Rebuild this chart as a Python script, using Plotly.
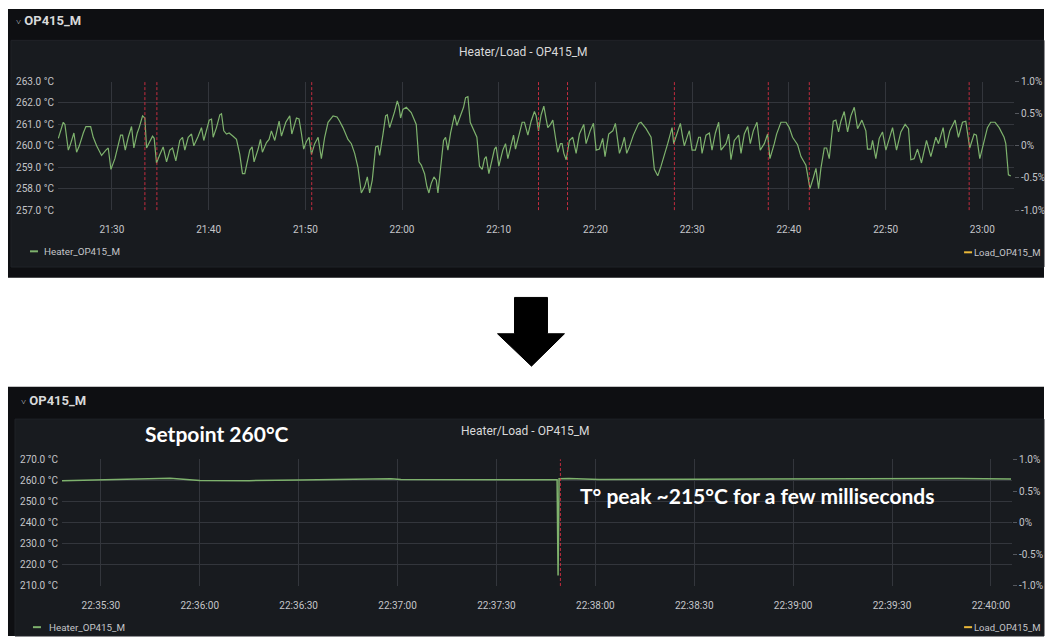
import pandas as pd
import plotly.graph_objects as go

W, H = 1045, 642

# ---------------------------------------------------------------------------
# Overview window: heater temperature (minutes after 21:00, °C)
# ---------------------------------------------------------------------------
overview_minutes = [
    24.46, 24.73, 24.97, 25.14, 25.49, 25.66, 25.94, 26.07, 26.35, 26.63,
    27.04, 27.31, 27.80, 28.07, 28.42, 28.93, 29.38, 29.62, 29.90, 30.31,
    30.90, 31.10, 31.38, 31.69, 32.03, 32.27, 32.62, 32.82, 33.17, 33.41,
    33.58, 33.86, 34.20, 34.37, 34.61, 34.96, 35.30, 35.65, 35.99, 36.27,
    36.61, 37.02, 37.30, 37.54, 37.89, 38.23, 38.47, 38.92, 39.26, 39.50,
    40.06, 40.30, 40.47, 40.81, 41.16, 41.33, 41.57, 41.85, 42.12, 42.53,
    42.88, 43.22, 43.50, 43.74, 43.98, 44.26, 44.50, 44.70, 45.12, 45.36,
    45.56, 45.98, 46.25, 46.49, 46.84, 47.29, 47.53, 47.98, 48.39, 48.60,
    49.08, 49.35, 49.59, 49.83, 50.11, 50.39, 50.63, 50.97, 51.32, 51.66,
    52.00, 52.35, 52.87, 53.28, 53.55,
    53.89, 54.41, 54.76, 55.10, 55.44, 55.79, 56.13, 56.41, 56.65, 56.92,
    57.27, 57.51, 57.68, 58.03, 58.30, 58.47, 58.72, 59.23, 59.51, 59.68,
    59.85, 60.09, 60.44, 60.95, 61.47, 61.75, 61.99, 62.33, 62.57, 62.78,
    63.02, 63.30, 63.54, 63.71, 63.98, 64.29, 64.50, 64.74, 65.02, 65.43,
    65.67, 66.02, 66.36, 66.57, 66.81, 67.05, 67.32, 67.74, 68.01, 68.29,
    68.53, 68.70, 68.98, 69.22, 69.56, 69.73, 70.01, 70.42, 70.70, 70.94,
    71.28, 71.53, 71.73, 72.15, 72.42, 72.66, 73.01, 73.35, 73.69, 73.87,
    74.11, 74.38, 74.66, 74.90, 75.07, 75.35, 75.59, 75.86, 76.10, 76.38,
    76.55, 76.73, 76.97, 77.31, 77.65, 78.00, 78.34, 78.79, 79.03, 79.45,
    79.79, 80.07, 80.41, 80.75, 80.99, 81.37, 81.79, 82.06, 82.48, 82.75,
    82.99, 83.23, 83.51, 83.92, 84.47, 84.71, 85.23, 85.75, 86.09, 86.44,
    86.78, 87.47, 87.92, 88.09, 88.50, 88.78, 89.02, 89.19, 89.54,
    89.71, 89.99, 90.33, 90.67, 90.85, 91.02, 91.43, 91.78, 92.05, 92.40,
    92.74, 92.98, 93.50, 93.77, 94.01, 94.36, 94.81, 95.05, 95.39, 95.74,
    96.01, 96.32, 96.70, 97.04, 97.46, 97.80, 98.04, 98.49, 98.73, 99.18,
    99.70, 100.04, 100.38, 100.90, 101.25, 101.76, 102.18, 102.52, 102.80, 103.07,
    103.31, 103.66, 103.90, 104.17, 104.59, 104.86, 105.14, 105.38, 105.72, 106.07,
    106.41, 106.76, 107.10, 107.55, 107.96, 108.13, 108.48, 108.65, 108.99, 109.34,
    109.68, 110.03, 110.37, 110.72, 111.13, 111.58, 112.02, 112.37, 112.61, 112.95,
    113.30, 113.71, 114.23, 114.68, 115.19, 115.47, 115.95, 116.23, 116.64, 117.19,
    117.53, 117.95, 118.29, 118.70, 119.15, 119.39, 119.74, 120.01, 120.53, 120.87,
    121.32, 121.74, 122.25, 122.43, 122.70, 122.94,
]
overview_temp = [
    260.35, 260.8, 261.1, 261.0, 259.8, 260.0, 260.5, 260.6, 259.7, 260.0,
    260.6, 260.9, 260.9, 260.4, 260.0, 259.55, 259.8, 259.9, 258.9, 259.4,
    260.5, 260.5, 259.8, 260.4, 260.9, 259.9, 260.6, 260.85, 261.4, 261.3,
    259.9, 260.15, 260.45, 260.35, 259.2, 259.6, 259.95, 259.25, 259.8, 259.9,
    259.3, 260.25, 260.4, 259.8, 260.4, 260.55, 260.0, 260.45, 260.85, 260.25,
    261.2, 261.25, 260.4, 260.85, 261.45, 261.5, 260.7, 260.55, 260.6, 260.45,
    260.3, 259.6, 258.7, 258.7, 259.15, 259.8, 259.95, 259.25, 259.85, 260.3,
    259.7, 260.15, 260.3, 260.7, 260.25, 261.15, 260.45, 261.1, 261.4, 260.55,
    261.3, 261.25, 260.6, 259.85, 260.2, 260.4, 259.6, 260.1, 260.4, 259.4,
    260.4, 261.1, 261.4, 261.35, 261.15,
    260.85, 260.3, 260.1, 259.65, 259.0, 257.8, 258.1, 258.55, 257.8, 258.4,
    259.95, 260.0, 259.55, 260.55, 261.4, 261.45, 260.85, 261.6, 262.1, 261.85,
    261.3, 261.7, 261.8, 261.55, 261.0, 259.25, 259.1, 258.7, 258.1, 257.8,
    258.25, 258.55, 258.4, 257.8, 258.9, 260.25, 260.4, 259.8, 260.6, 261.45,
    260.95, 261.4, 261.8, 262.25, 262.3, 261.1, 260.85, 260.4, 259.05, 258.9,
    259.4, 259.5, 258.7, 259.2, 259.85, 259.95, 259.05, 259.8, 260.1, 259.4,
    260.1, 260.5, 259.85, 260.55, 261.1, 261.1, 260.5, 261.15, 261.6, 261.4,
    260.7, 261.45, 261.85, 261.25, 260.85, 261.0, 261.2, 260.4, 259.7, 260.1,
    260.1, 259.65, 259.35, 260.25, 260.4, 259.65, 260.55, 261.0, 260.1, 260.7,
    261.05, 259.8, 259.85, 260.35, 259.5, 260.55, 260.7, 261.05, 259.65, 260.0,
    260.4, 259.65, 259.95, 260.5, 261.05, 261.1, 260.8, 260.4, 258.9, 258.6,
    259.05, 260.1, 260.85, 260.1, 260.7, 261.05, 260.4, 260.0, 260.5,
    260.7, 259.8, 259.8, 260.4, 260.4, 259.65, 260.5, 260.6, 259.8, 260.6,
    261.1, 259.8, 260.1, 260.55, 259.35, 260.25, 260.5, 259.65, 260.55, 260.9,
    260.1, 260.7, 261.1, 259.8, 260.1, 260.55, 259.4, 260.1, 260.55, 261.1,
    261.1, 260.85, 260.4, 260.05, 259.5, 259.1, 258.0, 258.5, 258.95, 258.0,
    258.95, 259.9, 259.9, 259.4, 261.15, 261.2, 260.65, 261.15, 261.6, 260.65,
    261.4, 261.8, 260.8, 261.2, 260.7, 259.85, 259.85, 260.25, 259.4, 260.35,
    260.65, 259.8, 260.35, 260.85, 259.8, 260.65, 261.0, 260.8, 259.35, 259.4,
    259.85, 259.2, 260.25, 259.5, 260.4, 260.1, 260.85, 259.9, 260.7, 261.2,
    260.4, 261.1, 261.15, 259.9, 260.55, 260.5, 259.4, 259.85, 260.85, 261.1,
    261.1, 260.85, 260.4, 260.1, 258.65, 258.6,
]
# Annotation events (minutes after 21:00)
overview_events = [33.41, 34.65, 50.66, 74.11, 77.11, 88.16, 97.87, 102.11, 118.64]
overview_range_min = [24.42, 123.28]

# ---------------------------------------------------------------------------
# Detail window: heater temperature (seconds after 22:35:00, °C)
# ---------------------------------------------------------------------------
setpoint_c = 260
peak_c = 215
detail_seconds = [
    18.2, 29.7, 41.8, 51.0, 60.0, 75.0, 90.3, 102.4, 111.5,
    118.0, 121.0, 140.0, 160.0, 168.4, 168.7, 169.0, 172.0, 181.2, 211.5,
    241.8, 260.0, 272.1, 290.0, 306.1,
]
detail_temp = [
    259.9, 260.4, 260.8, 261.0, 260.0, 259.9, 260.2, 260.6, 260.9,
    260.8, 260.4, 260.3, 260.3, 260.3, peak_c, 260.8, 260.9, 260.5, 260.6,
    260.8, 261.0, 261.0, 260.9, 260.7,
]
detail_events = [169.4]
detail_range_s = [18.2, 306.4]

# Load axis (percent) ticks
load_ticks = [-1.0, -0.5, 0.0, 0.5, 1.0]
load_ticktext = ["-1.0%", "-0.5%", "0%", "0.5%", "1.0%"]

# ---------------------------------------------------------------------------
GREEN = "#7eb26d"
YELLOW = "#eab839"
RED = "#e02f44"
RED_LINE = "rgba(224,47,68,0.85)"
OUTER = "#0e0f12"
INNER = "#181b1f"
GRID = "#33363c"
TXT = "#d8d9da"
TICK = "#c4c5c9"
FONT = "Roboto"
CALLOUT_FONT = "Lato"

day0 = pd.Timestamp("2021-03-15 21:00:00")
det0 = pd.Timestamp("2021-03-15 22:35:00")
ov_t = day0 + pd.to_timedelta(overview_minutes, unit="min")
ov_ev = day0 + pd.to_timedelta(overview_events, unit="min")
ov_rng = day0 + pd.to_timedelta(overview_range_min, unit="min")
det_t = det0 + pd.to_timedelta(detail_seconds, unit="s")
det_ev = det0 + pd.to_timedelta(detail_events, unit="s")
det_rng = det0 + pd.to_timedelta(detail_range_s, unit="s")


def px(x):
    return x / W


def py(y):
    return 1 - y / H


fig = go.Figure()

# Overview panel traces
fig.add_trace(go.Scatter(x=ov_t, y=overview_temp, mode="lines",
                         line=dict(color=GREEN, width=1.2),
                         name="Heater_OP415_M", xaxis="x", yaxis="y"))
fig.add_trace(go.Scatter(x=[], y=[], mode="lines", line=dict(color=YELLOW),
                         name="Load_OP415_M", xaxis="x", yaxis="y2"))
fig.add_trace(go.Scatter(x=ov_ev, y=[256.86] * len(ov_ev), mode="markers",
                         marker=dict(symbol="triangle-up", size=8, color=RED),
                         cliponaxis=False, xaxis="x", yaxis="y"))

# Detail panel traces
fig.add_trace(go.Scatter(x=det_t, y=detail_temp, mode="lines",
                         line=dict(color=GREEN, width=1.5),
                         name="Heater_OP415_M", xaxis="x2", yaxis="y3"))
fig.add_trace(go.Scatter(x=[], y=[], mode="lines", line=dict(color=YELLOW),
                         name="Load_OP415_M", xaxis="x2", yaxis="y4"))
fig.add_trace(go.Scatter(x=det_ev, y=[208.1] * len(det_ev), mode="markers",
                         marker=dict(symbol="triangle-up", size=8, color=RED),
                         cliponaxis=False, xaxis="x2", yaxis="y3"))

shapes = [
    # panel backgrounds
    dict(type="rect", xref="paper", yref="paper", x0=px(8), x1=px(1045),
         y0=py(277), y1=py(3), fillcolor=OUTER, line_width=0, layer="below"),
    dict(type="rect", xref="paper", yref="paper", x0=px(11), x1=px(1045),
         y0=py(266), y1=py(35), fillcolor=INNER,
         line=dict(color="#202328", width=1), layer="below"),
    dict(type="rect", xref="paper", yref="paper", x0=px(8), x1=px(1045),
         y0=py(642), y1=py(388), fillcolor=OUTER, line_width=0, layer="below"),
    dict(type="rect", xref="paper", yref="paper", x0=px(15), x1=px(1045),
         y0=py(642), y1=py(421), fillcolor=INNER,
         line=dict(color="#202328", width=1), layer="below"),
    # legend swatches
    dict(type="line", xref="paper", yref="paper", x0=px(30), x1=px(38),
         y0=py(250), y1=py(250), line=dict(color=GREEN, width=2)),
    dict(type="line", xref="paper", yref="paper", x0=px(965), x1=px(973),
         y0=py(251), y1=py(251), line=dict(color=YELLOW, width=2)),
    dict(type="line", xref="paper", yref="paper", x0=px(33), x1=px(41),
         y0=py(633), y1=py(633), line=dict(color=GREEN, width=2)),
    dict(type="line", xref="paper", yref="paper", x0=px(965), x1=px(973),
         y0=py(633), y1=py(633), line=dict(color=YELLOW, width=2)),
]

# down arrow between the two panels
arrow_pts = [(515, 297), (548, 297), (548, 334), (565, 334), (532, 367),
             (498, 334), (515, 334)]
path = "M " + " L ".join(f"{px(a):.5f},{py(b):.5f}" for a, b in arrow_pts) + " Z"
shapes.append(dict(type="path", xref="paper", yref="paper", path=path,
                   fillcolor="black", line=dict(color="black", width=1)))

# annotation event markers
for t in ov_ev:
    shapes.append(dict(type="line", xref="x", yref="y domain", x0=t, x1=t,
                       y0=0, y1=1, line=dict(color=RED_LINE, width=1, dash="3px,2px")))
for t in det_ev:
    shapes.append(dict(type="line", xref="x2", yref="y3 domain", x0=t, x1=t,
                       y0=0, y1=1, line=dict(color=RED_LINE, width=1, dash="3px,2px")))


def label(text, x, y, size=10, color=TICK, xanchor="left", family=FONT):
    return dict(text=text, x=px(x), y=py(y), xref="paper", yref="paper",
                xanchor=xanchor, yanchor="middle", showarrow=False,
                font=dict(family=family, size=size, color=color))


annotations = [
    label("<span style='font-size:9px'>˅</span> <b>OP415_M</b>", 14, 15, 13, TXT),
    label("<span style='font-size:9px'>˅</span> <b>OP415_M</b>", 19, 402, 13, TXT),
    label("Heater/Load - OP415_M", 524, 47, 12, TXT, "center"),
    label("Heater/Load - OP415_M", 526, 433, 12, TXT, "center"),
    label("Heater_OP415_M", 42, 250, 9.8),
    label("Load_OP415_M", 1043, 251, 9.5, TICK, "right"),
    label("Heater_OP415_M", 47, 633, 9.8),
    label("Load_OP415_M", 1043, 633, 9.5, TICK, "right"),
    label(f"<b>Setpoint {setpoint_c}°C</b>", 217, 436, 21, "white", "center",
          CALLOUT_FONT),
    label(f"<b>T° peak ~{peak_c}°C for a few milliseconds</b>", 579, 499, 21,
          "white", "left", CALLOUT_FONT),
]

axis_common = dict(showline=False, zeroline=False, gridcolor=GRID, gridwidth=1,
                   tickfont=dict(family=FONT, size=10, color=TICK))

fig.update_layout(
    width=W, height=H,
    margin=dict(l=0, r=0, t=0, b=0),
    paper_bgcolor="white",
    plot_bgcolor="rgba(0,0,0,0)",
    showlegend=False,
    shapes=shapes,
    annotations=annotations,
    xaxis=dict(axis_common, type="date", domain=[px(58), px(1015)],
               range=list(ov_rng), tickformat="%H:%M", dtick=600000,
               tick0=day0 + pd.Timedelta(minutes=30), anchor="y",
               ticks="", ticklabelstandoff=12),
    yaxis=dict(axis_common, domain=[py(208), py(77)], range=[257, 263],
               dtick=1, tickformat=".1f", ticksuffix=" °C", anchor="x",
               ticks="", ticklabelstandoff=3),
    yaxis2=dict(axis_common, overlaying="y", side="right", anchor="x",
                range=[-1, 1], tickvals=load_ticks, ticktext=load_ticktext,
                showgrid=False, ticks="outside", ticklen=4, tickcolor="#55585e"),
    xaxis2=dict(axis_common, type="date", domain=[px(62), px(1013)],
                range=list(det_rng), tickformat="%H:%M:%S", dtick=30000,
                tick0=det0 + pd.Timedelta(seconds=30), anchor="y3",
                ticks="", ticklabelstandoff=12),
    yaxis3=dict(axis_common, domain=[py(591), py(462)], range=[210, 270],
                dtick=10, tickformat=".1f", ticksuffix=" °C", anchor="x2",
                ticks="", ticklabelstandoff=3),
    yaxis4=dict(axis_common, overlaying="y3", side="right", anchor="x2",
                range=[-1, 1], tickvals=load_ticks, ticktext=load_ticktext,
                showgrid=False, ticks="outside", ticklen=4, tickcolor="#55585e"),
)

fig.write_html("out.html")
